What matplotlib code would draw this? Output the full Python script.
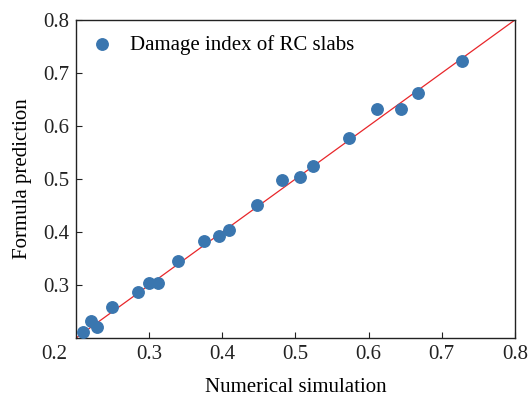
import matplotlib
matplotlib.use("Agg")
import matplotlib.pyplot as plt

numerical = [0.209, 0.220, 0.228, 0.249, 0.285, 0.300, 0.312, 0.340,
             0.375, 0.395, 0.409, 0.447, 0.482, 0.506, 0.524, 0.573,
             0.612, 0.644, 0.668, 0.728]
formula = [0.211, 0.232, 0.220, 0.259, 0.287, 0.303, 0.303, 0.345,
           0.384, 0.393, 0.403, 0.451, 0.498, 0.503, 0.524, 0.578,
           0.633, 0.633, 0.663, 0.722]
ticks = [0.3, 0.4, 0.5, 0.6, 0.7, 0.8]

plt.rcParams["font.family"] = ["Liberation Serif", "DejaVu Serif"]
plt.rcParams["font.size"] = 15

fig = plt.figure(figsize=(5.28, 4.01), dpi=100)
ax = fig.add_axes([0.144, 0.157, 0.831, 0.793])

ax.plot([0.2, 0.8], [0.2, 0.8], color="#e8262a", lw=0.9, zorder=2)
ax.scatter(numerical, formula, s=68, color="#3a76af", zorder=3,
           label="Damage index of RC slabs")

ax.set_xlim(0.2, 0.8)
ax.set_ylim(0.2, 0.8)
ax.set_xticks(ticks)
ax.set_yticks(ticks)
ax.set_xticklabels([f"{t:.1f}" for t in ticks])
ax.set_yticklabels([f"{t:.1f}" for t in ticks])
ax.tick_params(direction="in", length=4, width=0.8, labelsize=15,
               colors="#222222", pad=5)
for sp in ax.spines.values():
    sp.set_linewidth(1.0)
    sp.set_color("#222222")

# shared origin label at the lower left corner
ax.annotate("0.2", xy=(0, 0), xycoords="axes fraction", xytext=(-6, -12),
            textcoords="offset points", ha="right", va="center",
            fontsize=15, color="#222222")

ax.set_xlabel("Numerical simulation", fontsize=15, labelpad=10)
ax.set_ylabel("Formula prediction", fontsize=15, labelpad=8)

ax.legend(loc="upper left", frameon=False, fontsize=15,
          handletextpad=0.8, borderaxespad=0.3, handlelength=1.1,
          borderpad=0.4)

fig.savefig("out.png", dpi=100)
